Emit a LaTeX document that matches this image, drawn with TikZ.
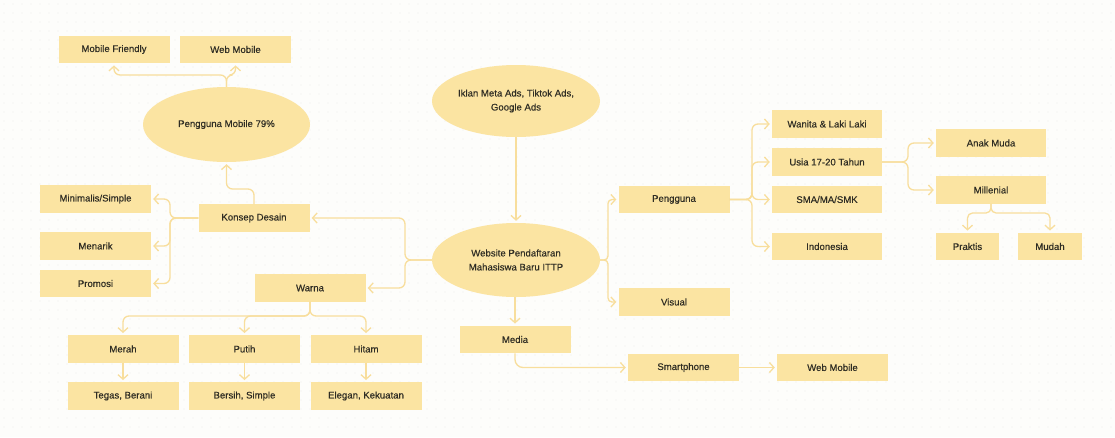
\documentclass[tikz,border=0pt]{standalone}
\usepackage{fontspec}
\setmainfont{Liberation Sans}[FakeBold=0.35]
\usetikzlibrary{arrows.meta,shapes.geometric}
\definecolor{boxfill}{HTML}{FBE4A2}
\definecolor{linecol}{HTML}{F8DE9C}
\definecolor{txtcol}{HTML}{2F2D24}
\definecolor{bgcol}{HTML}{FDFDFB}
\definecolor{dotcol}{HTML}{EFEFEA}
\tikzset{
  box/.style={rectangle, fill=boxfill, inner sep=0pt, minimum width=111pt, minimum height=27.5pt, text=txtcol, font=\fontsize{9.6}{11.5}\selectfont},
  oval/.style={ellipse, fill=boxfill, inner sep=0pt, text=txtcol, align=center, font=\fontsize{9.6}{14}\selectfont},
  conn/.style={draw=linecol, line width=1.3pt, rounded corners=6pt, -{Straight Barb[length=4.5pt,width=10pt,line width=1.3pt]}, shorten >=2pt},
}
\begin{document}
\begin{tikzpicture}[x=1pt,y=-1pt]
\fill[bgcol] (0,0) rectangle (1115,437);
\useasboundingbox (0,0) rectangle (1115,437);
\foreach \i in {0,...,123} {
  \foreach \j in {0,...,47} {
    \fill[dotcol] (4+\i*9,4+\j*9) circle (0.6pt);
  }
}
% nodes
\node[box] (mf) at (114,49.5) {Mobile Friendly};
\node[box] (wm1) at (235.5,49.5) {Web Mobile};
\node[oval, minimum width=167pt, minimum height=75pt] (pm) at (226.5,124.5) {Pengguna Mobile 79\%};
\node[box] (minim) at (95.5,199) {Minimalis/Simple};
\node[box] (konsep) at (254,218) {Konsep Desain};
\node[box] (menarik) at (95.5,246) {Menarik};
\node[box] (promosi) at (95.5,283.5) {Promosi};
\node[box] (warna) at (310,288) {Warna};
\node[box] (merah) at (123,349) {Merah};
\node[box] (putih) at (244.5,349) {Putih};
\node[box] (hitam) at (366,349) {Hitam};
\node[box] (tegas) at (123,396) {Tegas, Berani};
\node[box] (bersih) at (244.5,396) {Bersih, Simple};
\node[box] (elegan) at (366,396) {Elegan, Kekuatan};
\node[oval, minimum width=168pt, minimum height=72pt] (iklan) at (516,101) {Iklan Meta Ads, Tiktok Ads,\\Google Ads};
\node[oval, minimum width=168pt, minimum height=74pt] (web) at (516,260) {Website Pendaftaran\\Mahasiswa Baru ITTP};
\node[box] (pengguna) at (674,199.5) {Pengguna};
\node[box] (visual) at (674,302) {Visual};
\node[box] (media) at (515,339.5) {Media};
\node[box] (smart) at (683.5,367.5) {Smartphone};
\node[box] (wm2) at (832.5,367.5) {Web Mobile};
\node[box, minimum width=110pt] (wanita) at (827,124) {Wanita \& Laki Laki};
\node[box, minimum width=110pt] (usia) at (827,162) {Usia 17-20 Tahun};
\node[box, minimum width=110pt] (sma) at (827,199.5) {SMA/MA/SMK};
\node[box, minimum width=110pt] (indo) at (827,246.5) {Indonesia};
\node[box, minimum width=110pt] (anak) at (991,143) {Anak Muda};
\node[box, minimum width=110pt] (mill) at (991,190) {Millenial};
\node[box, minimum width=63pt] (praktis) at (967.5,246.5) {Praktis};
\node[box, minimum width=64pt] (mudah) at (1050,246.5) {Mudah};
% connectors
\coordinate (j1) at (226.5,75);
\draw[conn] (pm.north) -- (j1) -| (mf.south);
\draw[conn] (pm.north) -- (j1) -| (wm1.south);
\coordinate (j2) at (254,189);
\draw[conn] (konsep.north) -- (j2) -| (pm.south);
\coordinate (j3) at (170,218);
\draw[conn] (konsep.west) -- (j3) |- (minim.east);
\draw[conn] (konsep.west) -- (j3) |- (menarik.east);
\draw[conn] (konsep.west) -- (j3) |- (promosi.east);
\coordinate (j4) at (405,260);
\draw[conn] (web.west) -- (j4) |- (konsep.east);
\draw[conn] (web.west) -- (j4) |- (warna.east);
\coordinate (j5) at (310,316);
\draw[conn] (warna.south) -- (j5) -| (merah.north);
\draw[conn] (warna.south) -- (j5) -| (putih.north);
\draw[conn] (warna.south) -- (j5) -| (hitam.north);
\draw[conn] (merah.south) -- (tegas.north);
\draw[conn] (putih.south) -- (bersih.north);
\draw[conn] (hitam.south) -- (elegan.north);
\draw[conn] (iklan.south) -- (web.north);
\coordinate (j6) at (608,260);
\draw[conn, rounded corners=4pt] (web.east) -- (j6) |- (pengguna.west);
\draw[conn, rounded corners=4pt] (web.east) -- (j6) |- (visual.west);
\draw[conn] (media.north |- web.south) -- (media.north);
\draw[conn, rounded corners=8pt] (media.south) |- (smart.west);
\draw[conn] (smart.east) -- (wm2.west);
\coordinate (j7) at (752,199.5);
\draw[conn] (pengguna.east) -- (j7) |- (wanita.west);
\draw[conn] (pengguna.east) -- (j7) |- (usia.west);
\draw[conn] (pengguna.east) -- (j7) |- (sma.west);
\draw[conn] (pengguna.east) -- (j7) |- (indo.west);
\coordinate (j8) at (908,162);
\draw[conn] (usia.east) -- (j8) |- (anak.west);
\draw[conn] (usia.east) -- (j8) |- (mill.west);
\coordinate (j9) at (991,213);
\draw[conn, rounded corners=5pt] (mill.south) -- (j9) -| (praktis.north);
\draw[conn, rounded corners=5pt] (mill.south) -- (j9) -| (mudah.north);
\end{tikzpicture}
\end{document}
